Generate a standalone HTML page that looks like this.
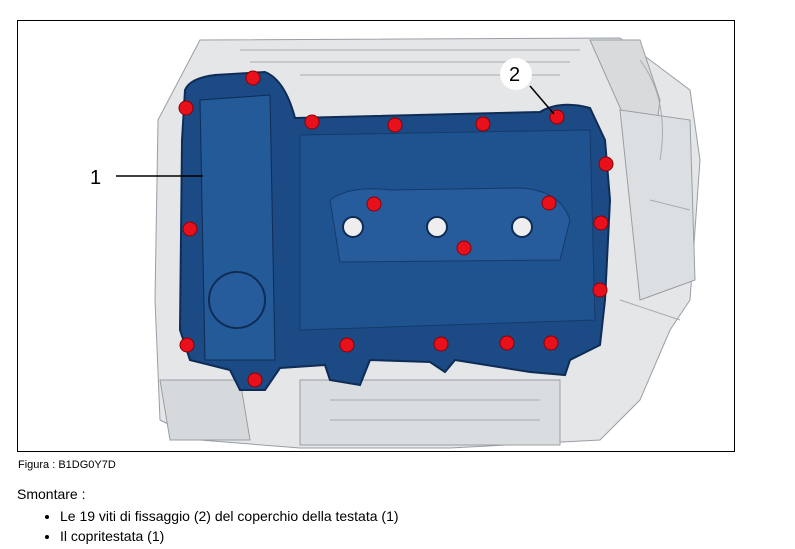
<!DOCTYPE html>
<html><head><meta charset="utf-8"><style>
body{margin:0;background:#fff;width:795px;height:549px;overflow:hidden;font-family:"Liberation Sans",Arial,sans-serif;}
.cap{position:absolute;left:18px;top:459px;font-size:11px;color:#000}
.sm{position:absolute;left:17px;top:486px;font-size:14px;color:#000}
ul{position:absolute;left:40px;top:506px;margin:0;padding-left:20px;font-size:14px;line-height:20px}
</style></head><body>
<svg width="795" height="549" style="position:absolute;left:0;top:0">
<rect x="17.5" y="20.5" width="717" height="431" fill="#fff" stroke="#000"/>
<g fill="#e4e6e8" stroke="#9a9ea4" stroke-width="1">
<path d="M200 40 L620 38 L650 60 L690 90 L700 160 L690 300 L670 330 L640 400 L600 440 L450 448 L300 448 L200 440 L160 420 L155 300 L158 120 Z"/>
<path d="M590 40 L640 40 L660 100 L655 140 L630 130 Z" fill="#d8dadc"/>
<path d="M620 110 L690 120 L695 280 L640 300 Z" fill="#dcdfe2"/>
<path d="M300 380 L560 380 L560 445 L300 445 Z" fill="#dadde0"/>
<path d="M160 380 L240 380 L250 440 L170 440 Z" fill="#d6d9dc"/>
</g>
<g stroke="#a8acb0" fill="none">
<path d="M240 50 L580 50 M250 62 L570 62 M300 75 L560 75 M640 60 Q670 100 660 160 M650 200 L690 210 M620 300 L680 320 M330 400 L540 400 M330 420 L540 420"/>
</g>
<path d="M185 90 Q190 78 215 75 L265 72 Q285 80 295 118 L540 112 Q560 100 590 108 L605 140 L610 200 L605 300 L600 345 L570 360 L565 375 L530 372 L455 360 L445 372 L430 362 L370 360 L360 385 L330 380 L325 365 L280 368 L265 390 L240 390 L230 370 L190 360 L180 330 L182 140 Z" fill="#1b4a85" stroke="#0f2c55" stroke-width="2"/>
<path d="M200 100 L270 95 L275 360 L205 360 Z" fill="#235a98" stroke="#0f2c55"/>
<path d="M300 135 L590 130 L595 320 L300 330 Z" fill="#1f5390" stroke="#163a6a"/>
<path d="M330 200 Q350 185 390 190 L520 188 Q560 190 570 220 L560 260 L340 262 Z" fill="#265c9c" stroke="#163a6a"/>
<circle cx="237" cy="300" r="28" fill="#265c9c" stroke="#0f2c55" stroke-width="2"/>
<g fill="#eee" stroke="#0f2c55" stroke-width="2">
<circle cx="353" cy="227" r="10"/><circle cx="437" cy="227" r="10"/><circle cx="522" cy="227" r="10"/>
</g>
<g fill="#e8101a" stroke="#8a0008">
<circle cx="253" cy="78" r="7"/><circle cx="186" cy="108" r="7"/><circle cx="312" cy="122" r="7"/>
<circle cx="395" cy="125" r="7"/><circle cx="483" cy="124" r="7"/><circle cx="557" cy="117" r="7"/>
<circle cx="606" cy="164" r="7"/><circle cx="374" cy="204" r="7"/><circle cx="549" cy="203" r="7"/>
<circle cx="190" cy="229" r="7"/><circle cx="601" cy="223" r="7"/><circle cx="464" cy="248" r="7"/>
<circle cx="600" cy="290" r="7"/><circle cx="187" cy="345" r="7"/><circle cx="347" cy="345" r="7"/>
<circle cx="441" cy="344" r="7"/><circle cx="507" cy="343" r="7"/><circle cx="551" cy="343" r="7"/>
<circle cx="255" cy="380" r="7"/>
</g>
<line x1="116" y1="176" x2="203" y2="176" stroke="#000" stroke-width="1.5"/>
<text x="90" y="184" font-size="20" font-family="Liberation Sans">1</text>
<circle cx="516" cy="74" r="16" fill="#fff"/>
<text x="509" y="81" font-size="20" font-family="Liberation Sans">2</text>
<line x1="530" y1="86" x2="554" y2="114" stroke="#000" stroke-width="1.5"/>
</svg>
<div class="cap">Figura : B1DG0Y7D</div>
<div class="sm">Smontare :</div>
<ul><li>Le 19 viti di fissaggio (2) del coperchio della testata (1)</li><li>Il copritestata (1)</li></ul>
</body></html>
